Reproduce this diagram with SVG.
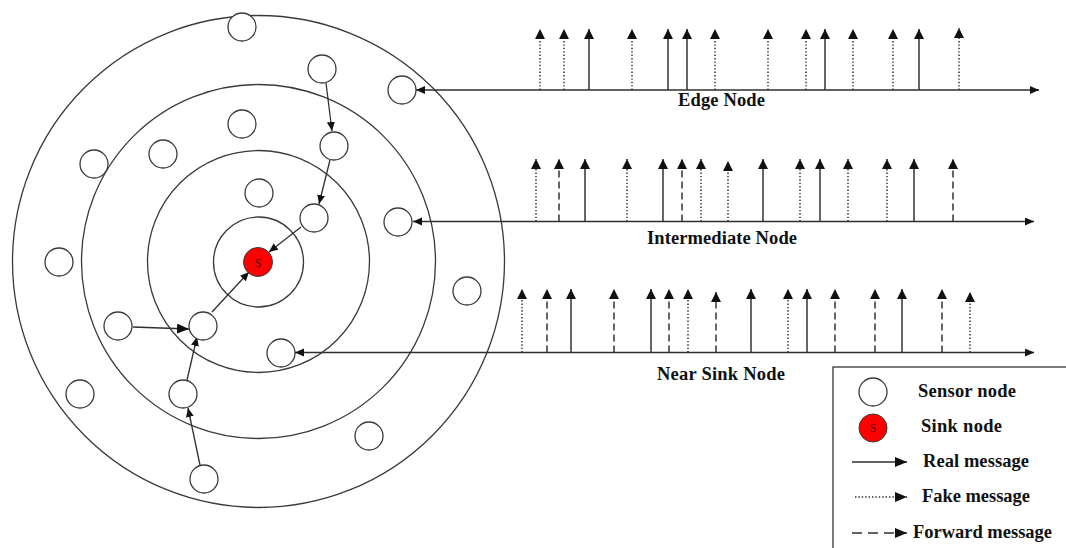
<svg xmlns="http://www.w3.org/2000/svg" width="1066" height="548" viewBox="0 0 1066 548">
<defs>
<style>
.ring{fill:none;stroke:#3a3a3a;stroke-width:1.3}
.node{fill:#fff;stroke:#3a3a3a;stroke-width:1.3}
.sink{fill:#ff0000;stroke:#3a3a3a;stroke-width:1}
.s{font-family:"Liberation Serif",serif;font-size:12px;fill:#5a0000;text-anchor:middle}
.ln{stroke:#2f2f2f;stroke-width:1.3;fill:none}
.p{stroke:#333;stroke-width:1.5;fill:none;marker-end:url(#ahp)}
.dot{stroke-dasharray:1.4 2}
.dash{stroke-dasharray:7 4}
.lbl{font-family:"Liberation Serif",serif;font-weight:bold;font-size:18.5px;fill:#111}
</style>
<marker id="ah" markerUnits="userSpaceOnUse" markerWidth="10" markerHeight="10" refX="9" refY="4" orient="auto"><path d="M0,0 L9,4 L0,8 z" fill="#111"/></marker>
<marker id="ahp" markerUnits="userSpaceOnUse" markerWidth="12" markerHeight="12" refX="10" refY="5" orient="auto"><path d="M0,0 L10,5 L0,10 z" fill="#111"/></marker>
<marker id="ahs" markerUnits="userSpaceOnUse" markerWidth="10" markerHeight="10" refX="9" refY="4" orient="auto-start-reverse"><path d="M0,0 L9,4 L0,8 z" fill="#111"/></marker>
<marker id="ahb" markerUnits="userSpaceOnUse" markerWidth="14" markerHeight="12" refX="12" refY="5" orient="auto"><path d="M0,0 L12,5 L0,10 z" fill="#111"/></marker>
</defs>
<rect width="1066" height="548" fill="#fff"/>
<g id="rings">
<circle class="ring" cx="258.5" cy="261.5" r="246"/>
<circle class="ring" cx="258.5" cy="261.5" r="177"/>
<circle class="ring" cx="258.5" cy="261.5" r="111"/>
<circle class="ring" cx="258.5" cy="262" r="45"/>
</g>
<g id="connectors">
<line class="ln" x1="326" y1="83" x2="332" y2="131" marker-end="url(#ah)"/>
<line class="ln" x1="330" y1="160" x2="319" y2="204" marker-end="url(#ah)"/>
<line class="ln" x1="301" y1="227" x2="269" y2="252" marker-end="url(#ah)"/>
<line class="ln" x1="212" y1="312" x2="249" y2="272" marker-end="url(#ah)"/>
<line class="ln" x1="133" y1="327" x2="189" y2="329" marker-end="url(#ahb)"/>
<line class="ln" x1="187" y1="380" x2="197" y2="337" marker-end="url(#ah)"/>
<line class="ln" x1="200" y1="465" x2="188" y2="408" marker-end="url(#ah)"/>
<line class="ln" x1="416" y1="90" x2="1039" y2="90" marker-start="url(#ahs)" marker-end="url(#ahs)"/>
<line class="ln" x1="413" y1="221.5" x2="1034" y2="221.5" marker-start="url(#ahs)" marker-end="url(#ahs)"/>
<line class="ln" x1="295" y1="352.5" x2="1034" y2="352.5" marker-start="url(#ahs)" marker-end="url(#ahs)"/>
</g>
<g id="sensor-nodes">
<circle class="node" cx="242" cy="27" r="14"/>
<circle class="node" cx="322" cy="69" r="14"/>
<circle class="node" cx="402" cy="90" r="14"/>
<circle class="node" cx="334" cy="146" r="14"/>
<circle class="node" cx="242" cy="124" r="14"/>
<circle class="node" cx="163" cy="154" r="14"/>
<circle class="node" cx="94" cy="164" r="14"/>
<circle class="node" cx="259" cy="193" r="14"/>
<circle class="node" cx="314" cy="218" r="14"/>
<circle class="node" cx="398" cy="222" r="14"/>
<circle class="node" cx="59" cy="262" r="14"/>
<circle class="node" cx="467" cy="291" r="14"/>
<circle class="node" cx="118" cy="326" r="14"/>
<circle class="node" cx="203" cy="326" r="14"/>
<circle class="node" cx="281" cy="353" r="14"/>
<circle class="node" cx="80" cy="394" r="14"/>
<circle class="node" cx="183" cy="394" r="14"/>
<circle class="node" cx="369" cy="436" r="14"/>
<circle class="node" cx="204" cy="479" r="14"/>
</g>
<g id="sink-node">
<circle class="sink" cx="258" cy="262" r="14.5"/>
<text class="s" x="258" y="266.5">S</text>
</g>
<g id="edge-row">
<line class="p dot" x1="540" y1="90" x2="540" y2="29"/>
<line class="p dot" x1="564" y1="90" x2="564" y2="29"/>
<line class="p" x1="589" y1="90" x2="589" y2="29"/>
<line class="p dot" x1="632" y1="90" x2="632" y2="29"/>
<line class="p" x1="668" y1="90" x2="668" y2="29"/>
<line class="p" x1="687" y1="90" x2="687" y2="29"/>
<line class="p dot" x1="715" y1="90" x2="715" y2="29"/>
<line class="p dot" x1="768" y1="90" x2="768" y2="29"/>
<line class="p dot" x1="806" y1="90" x2="806" y2="29"/>
<line class="p" x1="825" y1="90" x2="825" y2="29"/>
<line class="p dot" x1="853" y1="90" x2="853" y2="29"/>
<line class="p dot" x1="893" y1="90" x2="893" y2="29"/>
<line class="p" x1="919" y1="90" x2="919" y2="29"/>
<line class="p dot" x1="959" y1="90" x2="959" y2="28"/>
<text class="lbl" x="678" y="106" textLength="87">Edge Node</text>
</g>
<g id="intermediate-row">
<line class="p dot" x1="536" y1="221.5" x2="536" y2="159"/>
<line class="p dash" x1="559" y1="221.5" x2="559" y2="159"/>
<line class="p" x1="585" y1="221.5" x2="585" y2="159"/>
<line class="p dot" x1="627" y1="221.5" x2="627" y2="159"/>
<line class="p" x1="663" y1="221.5" x2="663" y2="159"/>
<line class="p dash" x1="682" y1="221.5" x2="682" y2="159"/>
<line class="p dot" x1="701" y1="221.5" x2="701" y2="159"/>
<line class="p dot" x1="728" y1="221.5" x2="728" y2="161"/>
<line class="p" x1="763" y1="221.5" x2="763" y2="159"/>
<line class="p dot" x1="800" y1="221.5" x2="800" y2="159"/>
<line class="p" x1="820" y1="221.5" x2="820" y2="159"/>
<line class="p dot" x1="848" y1="221.5" x2="848" y2="159"/>
<line class="p dot" x1="887" y1="221.5" x2="887" y2="159"/>
<line class="p" x1="914" y1="221.5" x2="914" y2="159"/>
<line class="p dash" x1="953" y1="221.5" x2="953" y2="159"/>
<text class="lbl" x="647" y="244" textLength="150">Intermediate Node</text>
</g>
<g id="near-sink-row">
<line class="p dot" x1="522" y1="352.5" x2="522" y2="289"/>
<line class="p dash" x1="547" y1="352.5" x2="547" y2="289"/>
<line class="p" x1="571" y1="352.5" x2="571" y2="289"/>
<line class="p dash" x1="614" y1="352.5" x2="614" y2="289"/>
<line class="p" x1="651" y1="352.5" x2="651" y2="289"/>
<line class="p dash" x1="669" y1="352.5" x2="669" y2="289"/>
<line class="p dot" x1="688" y1="352.5" x2="688" y2="289"/>
<line class="p dash" x1="716" y1="352.5" x2="716" y2="292"/>
<line class="p" x1="751" y1="352.5" x2="751" y2="289"/>
<line class="p dot" x1="788" y1="352.5" x2="788" y2="289"/>
<line class="p" x1="807" y1="352.5" x2="807" y2="289"/>
<line class="p dash" x1="835" y1="352.5" x2="835" y2="289"/>
<line class="p dash" x1="875" y1="352.5" x2="875" y2="289"/>
<line class="p" x1="902" y1="352.5" x2="902" y2="289"/>
<line class="p dash" x1="942" y1="352.5" x2="942" y2="289"/>
<line class="p dot" x1="970" y1="352.5" x2="970" y2="292"/>
<text class="lbl" x="657" y="380" textLength="128">Near Sink Node</text>
</g>
<g id="legend">
<rect x="833" y="367" width="250" height="200" fill="#fff" stroke="#333" stroke-width="1.3"/>
<circle class="node" cx="873" cy="392" r="14"/>
<text class="lbl" x="918" y="397" textLength="98">Sensor node</text>
<circle class="sink" cx="873" cy="428" r="14"/>
<text class="s" x="873" y="432">S</text>
<text class="lbl" x="921" y="432" textLength="81">Sink node</text>
<line class="ln" x1="852" y1="462" x2="907" y2="462" stroke-width="1.5" marker-end="url(#ahb)"/>
<text class="lbl" x="923" y="467" textLength="106">Real message</text>
<line class="ln dot" x1="855" y1="497" x2="907" y2="497" stroke-width="1.5" marker-end="url(#ahb)"/>
<text class="lbl" x="922" y="502" textLength="108">Fake message</text>
<line class="ln" x1="852" y1="533" x2="907" y2="533" stroke-width="1.5" stroke-dasharray="10 6" marker-end="url(#ahb)"/>
<text class="lbl" x="913" y="538" textLength="139">Forward message</text>
</g>
</svg>
